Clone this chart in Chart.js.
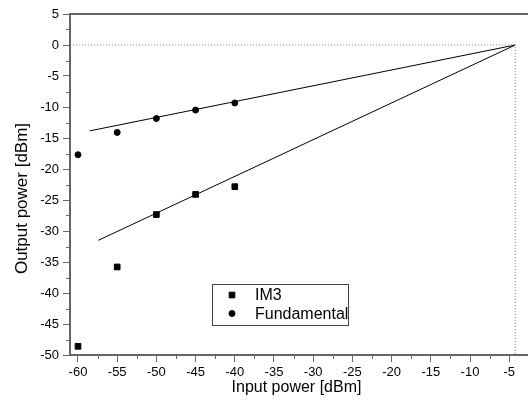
<!DOCTYPE html>
<html>
<head>
<meta charset="utf-8">
<script src="https://cdn.jsdelivr.net/npm/chart.js@4.4.1/dist/chart.umd.min.js"></script>
<style>
  html, body { margin: 0; padding: 0; background: #fff; }
  #wrap { width: 528px; height: 413px; }
</style>
</head>
<body>
<div id="wrap"><canvas id="chart" width="528" height="413"></canvas></div>
<script>
// ---- data ----
const inputPower = [-60, -55, -50, -45, -40];
const im3Power = [-48.6, -35.8, -27.35, -24.1, -22.85];
const fundPower = [-17.7, -14.1, -11.85, -10.5, -9.35];

// straight-line fits (start point, intercept point)
const im3FitX = [-57.4, -4.23];
const im3FitY = [-31.5, 0];
const fundFitX = [-58.5, -4.23];
const fundFitY = [-13.85, 0];

// dotted guide through the intercept
const guideX = [-61, -4.23, -4.23];
const guideY = [0, 0, -50];

const xTicks = [-60, -55, -50, -45, -40, -35, -30, -25, -20, -15, -10, -5];

const toXY = (xs, ys) => xs.map((x, i) => ({x: x, y: ys[i]}));

const axisGray = '#666666';
Chart.defaults.font.family = "'Liberation Sans', Arial, sans-serif";
Chart.defaults.color = '#000';

// minor ticks, frame lines to the edge, y title, boxed legend
const extras = {
  id: 'extras',
  afterDraw(chart) {
    const ctx = chart.ctx;
    const a = chart.chartArea;
    const xs = chart.scales.x, ys = chart.scales.y;
    ctx.save();
    // top frame, and axis line carried on to the picture edge
    ctx.strokeStyle = axisGray;
    ctx.lineWidth = 2;
    ctx.beginPath();
    ctx.moveTo(a.left, a.top);
    ctx.lineTo(chart.width, a.top);
    ctx.moveTo(a.right - 1, a.bottom);
    ctx.lineTo(chart.width, a.bottom);
    ctx.stroke();
    // minor ticks
    ctx.lineWidth = 1;
    ctx.beginPath();
    xTicks.forEach(v => {
      const p = Math.round(xs.getPixelForValue(v + 2.5)) + 0.5;
      if (p < chart.width) { ctx.moveTo(p, a.bottom); ctx.lineTo(p, a.bottom + 4); }
    });
    ys.ticks.forEach(t => {
      const p = Math.round(ys.getPixelForValue(t.value + 2.5)) + 0.5;
      if (t.value + 2.5 < ys.max) { ctx.moveTo(a.left, p); ctx.lineTo(a.left - 4, p); }
    });
    ctx.stroke();
    // y axis title
    ctx.fillStyle = '#000';
    ctx.font = "17px 'Liberation Sans', Arial, sans-serif";
    ctx.textAlign = 'center';
    ctx.textBaseline = 'middle';
    ctx.translate(22, (a.top + a.bottom) / 2 + 14);
    ctx.rotate(-Math.PI / 2);
    ctx.fillText('Output power [dBm]', 0, 0);
    ctx.restore();

    // legend
    ctx.save();
    const bx = a.left + 142, by = a.top + 270, bw = 136, bh = 41;
    ctx.strokeStyle = '#444';
    ctx.lineWidth = 1;
    ctx.strokeRect(bx + 0.5, by + 0.5, bw, bh);
    const items = chart.data.datasets.filter(d => d.inLegend);
    ctx.font = "16px 'Liberation Sans', Arial, sans-serif";
    ctx.textAlign = 'left';
    ctx.textBaseline = 'middle';
    items.forEach((d, i) => {
      const cy = by + 11 + i * 18.5;
      const cx = bx + 20;
      ctx.fillStyle = '#000';
      ctx.strokeStyle = '#000';
      Chart.helpers.drawPoint(ctx, {pointStyle: d.pointStyle, radius: d.pointRadius, borderWidth: d.pointBorderWidth, rotation: 0}, cx, cy);
      ctx.fillStyle = '#000';
      ctx.fillText(d.label, bx + 43, cy + 1);
    });
    ctx.restore();
  }
};

new Chart(document.getElementById('chart'), {
  type: 'scatter',
  data: {
    datasets: [
      {
        label: 'guide', data: toXY(guideX, guideY), showLine: true,
        borderColor: '#777', borderWidth: 1, borderDash: [1, 2], pointRadius: 0, fill: false
      },
      {
        label: 'fit IM3', data: toXY(im3FitX, im3FitY), showLine: true,
        borderColor: '#000', borderWidth: 1, pointRadius: 0
      },
      {
        label: 'fit fund', data: toXY(fundFitX, fundFitY), showLine: true,
        borderColor: '#000', borderWidth: 1, pointRadius: 0
      },
      {
        label: 'IM3', inLegend: true, data: toXY(inputPower, im3Power),
        pointStyle: 'rect', pointRadius: 4, pointBorderWidth: 1,
        backgroundColor: '#000', borderColor: '#000'
      },
      {
        label: 'Fundamental', inLegend: true, data: toXY(inputPower, fundPower),
        pointStyle: 'circle', pointRadius: 3, pointBorderWidth: 1,
        backgroundColor: '#000', borderColor: '#000'
      }
    ]
  },
  options: {
    responsive: false,
    animation: false,
    layout: { padding: { top: 14, right: 0, bottom: 0, left: 0 } },
    plugins: { legend: { display: false }, tooltip: { enabled: false } },
    scales: {
      x: {
        type: 'linear', min: -61.02, max: -3.24,
        afterBuildTicks: s => { s.ticks = xTicks.map(v => ({value: v})); },
        afterFit: s => { s.height = 58; },
        ticks: { font: { size: 13 }, color: '#000', padding: 3, maxRotation: 0, autoSkip: false },
        grid: { drawOnChartArea: false, drawTicks: true, tickLength: 7, tickColor: axisGray, tickWidth: 1 },
        border: { display: true, color: axisGray, width: 2 },
        title: { display: true, text: 'Input power [dBm]', font: { size: 16 }, color: '#000', padding: { top: 0, bottom: 16 } }
      },
      y: {
        type: 'linear', min: -50, max: 5,
        ticks: { stepSize: 5, font: { size: 13 }, color: '#000', padding: 4 },
        afterFit: s => { s.width = 70; },
        grid: { drawOnChartArea: false, drawTicks: true, tickLength: 7, tickColor: axisGray, tickWidth: 1 },
        border: { display: true, color: axisGray, width: 2 }
      }
    }
  },
  plugins: [extras]
});
</script>
</body>
</html>
